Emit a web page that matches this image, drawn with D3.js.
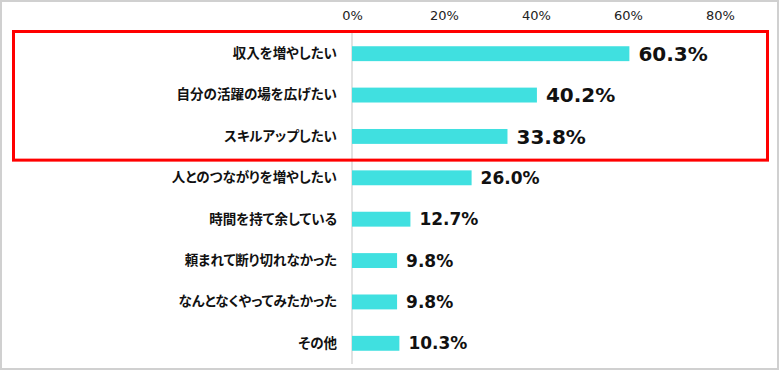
<!DOCTYPE html>
<html>
<head>
<meta charset="utf-8">
<script src="https://cdn.jsdelivr.net/npm/d3@7"></script>
<style>
  body { margin: 0; background: #fff; }
  svg { display: block; }
</style>
</head>
<body>
<script>
// data
var categories = ["収入を増やしたい", "自分の活躍の場を広げたい", "スキルアップしたい",
  "人とのつながりを増やしたい", "時間を持て余している", "頼まれて断り切れなかった",
  "なんとなくやってみたかった", "その他"];
var values = [60.3, 40.2, 33.8, 26.0, 12.7, 9.8, 9.8, 10.3];
var tickValues = [0, 20, 40, 60, 80];
var highlighted = ["収入を増やしたい", "自分の活躍の場を広げたい", "スキルアップしたい"];

var width = 780, height = 371;
var rows = categories.map(function(c, i) { return { cat: c, val: values[i] }; });

var svg = d3.select("body").append("svg")
  .attr("width", width)
  .attr("height", height);

// outer frame
svg.append("rect")
  .attr("x", 1).attr("y", 1)
  .attr("width", 777).attr("height", 368)
  .attr("fill", "#fff")
  .attr("stroke", "#d0d0d0")
  .attr("stroke-width", 2);

var x = d3.scaleLinear()
  .domain([0, 80])
  .range([352, 720]);
var y = d3.scaleBand()
  .domain(categories)
  .range([33, 364])
  .paddingInner(0.64)
  .paddingOuter(0.32);

// top tick labels
var xAxis = d3.axisTop(x)
  .tickValues(tickValues)
  .tickSize(0)
  .tickPadding(0)
  .tickFormat(function(d) { return d + "%"; });
var gx = svg.append("g")
  .attr("transform", "translate(0,20)")
  .call(xAxis);
gx.select(".domain").remove();
gx.selectAll("text")
  .attr("font-family", "'DejaVu Sans', sans-serif")
  .attr("font-size", 13)
  .attr("fill", "#222");

// zero line
svg.append("line")
  .attr("x1", x(0)).attr("x2", x(0))
  .attr("y1", 33).attr("y2", 364)
  .attr("stroke", "#d9d9d9")
  .attr("stroke-width", 1.5);

// category labels
var yAxis = d3.axisLeft(y).tickSize(0).tickPadding(15);
var gy = svg.append("g")
  .attr("transform", "translate(" + x(0) + ",0)")
  .call(yAxis);
gy.select(".domain").remove();
gy.selectAll("text")
  .attr("font-family", "'Noto Sans CJK JP', sans-serif")
  .attr("font-weight", "bold")
  .attr("font-size", 13.5)
  .style("font-feature-settings", "'palt'")
  .attr("fill", "#111");

// bars
svg.selectAll(".bar")
  .data(rows)
  .enter()
  .append("rect")
  .attr("class", "bar")
  .attr("x", x(0))
  .attr("y", function(d) { return y(d.cat); })
  .attr("width", function(d) { return x(d.val) - x(0); })
  .attr("height", y.bandwidth())
  .attr("fill", "#40e0e0");

// value labels
svg.selectAll(".val")
  .data(rows)
  .enter()
  .append("text")
  .attr("class", "val")
  .attr("x", function(d) { return x(d.val) + 9; })
  .attr("y", function(d) { return y(d.cat) + y.bandwidth() / 2; })
  .attr("dy", ".36em")
  .attr("font-family", "'DejaVu Sans', sans-serif")
  .attr("font-weight", "bold")
  .attr("font-size", function(d) { return highlighted.indexOf(d.cat) >= 0 ? 20 : 17; })
  .attr("fill", "#111")
  .text(function(d) { return d.val.toFixed(1) + "%"; });

// red highlight box around the top three
svg.append("rect")
  .attr("x", 13.5)
  .attr("y", 31.5)
  .attr("width", 754)
  .attr("height", y(highlighted[highlighted.length - 1]) + y.step() - y.step() * y.paddingInner() / 2 - 31.5 + 3)
  .attr("fill", "none")
  .attr("stroke", "#ff0000")
  .attr("stroke-width", 3);
</script>
</body>
</html>
